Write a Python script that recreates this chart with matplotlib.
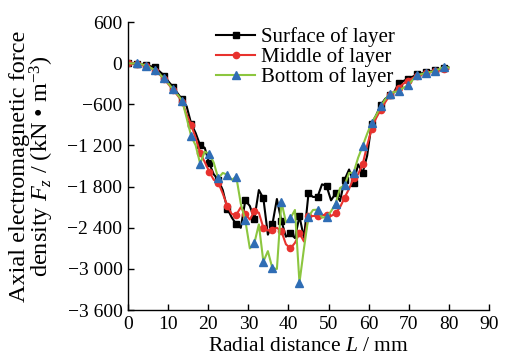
import numpy as np
import matplotlib
matplotlib.use("Agg")
import matplotlib.pyplot as plt

plt.rcParams['font.family'] = ['Liberation Serif', 'DejaVu Serif']
plt.rcParams['mathtext.fontset'] = 'custom'
plt.rcParams['mathtext.rm'] = 'Liberation Serif'
plt.rcParams['mathtext.it'] = 'Liberation Serif:italic'

# Radial distance grid (mm)
radial = np.arange(72) * 1.125

surface = [0, -5, -10, -15, -30, -45, -62, -120, -180, -270, -350, -440, -529, -630,
           -880, -1020, -1200, -1233, -1460, -1620, -1700, -1850, -2120, -2250, -2350,
           -2400, -2000, -2082, -2270, -1850, -1970, -2500, -2350, -1980, -2300, -2530,
           -2480, -2550, -2230, -2550, -1900, -1950, -1950, -1766, -1790, -2000, -1900,
           -2010, -1700, -1550, -1750, -1475, -1600, -1350, -880, -760, -612, -520, -470,
           -420, -290, -260, -230, -200, -165, -150, -131, -120, -105, -90, -70, -60]

middle = [0, -5, -8, -20, -40, -70, -110, -165, -230, -310, -390, -470, -560, -750,
          -900, -1090, -1306, -1440, -1580, -1700, -1740, -1900, -2080, -2200, -2210,
          -2100, -2200, -2280, -2160, -2180, -2400, -2440, -2430, -2400, -2450, -2640,
          -2700, -2620, -2480, -2600, -2230, -2228, -2228, -2210, -2220, -2228, -2190,
          -2100, -1961, -1830, -1680, -1620, -1475, -1200, -960, -800, -680, -570, -470,
          -420, -360, -300, -262, -220, -189, -170, -150, -130, -116, -105, -92, -85]

bottom = [0, -5, 0, -15, -35, -65, -106, -160, -223, -300, -383, -460, -545, -800,
          -1063, -1200, -1466, -1290, -1320, -1450, -1680, -1600, -1626, -1700, -1655,
          -2050, -2290, -2700, -2625, -2350, -2893, -2740, -2990, -3000, -2020, -2320,
          -2260, -2140, -3200, -2700, -2238, -2140, -2136, -2252, -2242, -2160, -2050,
          -1820, -1781, -1600, -1597, -1379, -1208, -1030, -869, -760, -626, -530, -447,
          -420, -408, -360, -325, -250, -179, -160, -141, -128, -116, -85, -54, -65]

series_labels = ["Surface of layer", "Middle of layer", "Bottom of layer"]
xticks = [0, 10, 20, 30, 40, 50, 60, 70, 80, 90]
yticks = [600, 0, -600, -1200, -1800, -2400, -3000, -3600]
ytick_labels = ["600", "0", "\u2212600", "\u22121 200", "\u22121 800", "\u22122 400",
                "\u22123 000", "\u22123 600"]

fig = plt.figure(figsize=(5.12, 3.61), dpi=100)
ax = fig.add_axes([0.25, 0.141, 0.705, 0.798])

ax.plot(radial, surface, color='black', lw=1.5, marker='s', ms=4,
        markevery=(0, 2), label=series_labels[0])
ax.plot(radial, middle, color='#E8322E', lw=1.5, marker='o', ms=4.5,
        markevery=(0, 2), label=series_labels[1])
ax.plot(radial, bottom, color='#8CC63F', lw=1.5, marker='^', ms=6,
        markerfacecolor='#2F6DB5', markeredgecolor='#2F6DB5',
        markevery=(2, 2), label=series_labels[2])

ax.set_xlim(0, 90)
ax.set_ylim(-3600, 600)
ax.set_xticks(xticks)
ax.set_yticks(yticks)
ax.set_yticklabels(ytick_labels)
ax.spines['top'].set_visible(False)
ax.spines['right'].set_visible(False)
ax.tick_params(direction='in', length=4, labelsize=14, width=1)
ax.tick_params(axis='x', pad=4)
ax.tick_params(axis='y', pad=4)
for s in ['left', 'bottom']:
    ax.spines[s].set_linewidth(1)

ax.set_xlabel("Radial distance $L$ / mm", fontsize=15.5, labelpad=3)
ax.set_ylabel("Axial electromagnetic force\ndensity $F_z$ / (kN \u2022 m$^{-3}$)",
              fontsize=17.5, linespacing=0.9)
ax.yaxis.set_label_coords(-0.2, 0.5)

leg = ax.legend(loc='upper left', bbox_to_anchor=(0.22, 1.01), frameon=False,
                fontsize=15, handlelength=1.9, handletextpad=0.25,
                labelspacing=0.0, borderaxespad=0)

fig.savefig("out.png", dpi=100)
